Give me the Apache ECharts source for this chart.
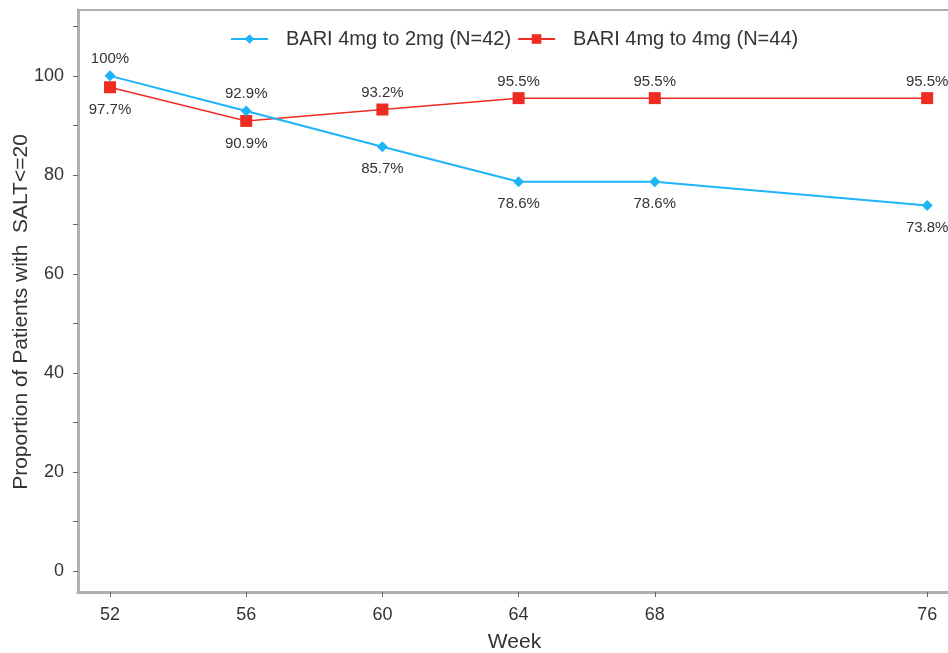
<!DOCTYPE html>
<html>
<head>
<meta charset="utf-8">
<script src="https://cdn.jsdelivr.net/npm/echarts@6/dist/echarts.min.js"></script>
<style>html,body{margin:0;padding:0;background:#fff}#c{width:948px;height:653px}</style>
</head>
<body>
<div id="c"></div>
<script>
var weeks = [52, 56, 60, 64, 68, 76];
var xTicks = [52, 56, 60, 64, 68, 76];
var yTickLabels = [0, 20, 40, 60, 80, 100];
var yTicks = [0, 10, 20, 30, 40, 50, 60, 70, 80, 90, 100, 110];
var seriesNames = ['BARI 4mg to 2mg (N=42)', 'BARI 4mg to 4mg (N=44)'];
var bari2 = [100, 92.9, 85.7, 78.6, 78.6, 73.8];
var bari4 = [97.7, 90.9, 93.2, 95.5, 95.5, 95.5];
var bari2Labels = ['100%', '92.9%', '85.7%', '78.6%', '78.6%', '73.8%'];
var bari4Labels = ['97.7%', '90.9%', '93.2%', '95.5%', '95.5%', '95.5%'];
var bari2LabelSide = ['top', 'top', 'bottom', 'bottom', 'bottom', 'bottom'];
var bari4LabelSide = ['bottom', 'bottom', 'top', 'top', 'top', 'top'];

function build(vals, labels, sides, topDist, botDist) {
  return vals.map(function (v, i) {
    return { value: [weeks[i], v], label: { position: sides[i], formatter: labels[i],
      distance: sides[i] === 'top' ? topDist : botDist } };
  });
}

var chart = echarts.init(document.getElementById('c'));
chart.setOption({
  animation: false,
  textStyle: { fontFamily: 'Liberation Sans, Arial, sans-serif' },
  legend: {
    top: 24, left: 225, itemWidth: 37, itemHeight: 12, itemGap: 6,
    textStyle: { fontSize: 20, color: '#333', padding: [0, 0, 0, 13] },
    data: seriesNames
  },
  grid: { left: 78, right: -3, top: 10, bottom: 61, outerBoundsMode: 'none', containLabel: false,
          show: true, borderColor: '#b0b0b0', borderWidth: 2 },
  xAxis: {
    type: 'value', min: 51.06, max: 76.7,
    name: 'Week', nameLocation: 'middle', nameGap: 40, nameMoveOverlap: false,
    nameTextStyle: { fontSize: 21, color: '#333' },
    axisLine: { show: true, onZero: false, lineStyle: { color: '#b0b0b0', width: 3 } },
    axisTick: { show: true, customValues: xTicks, length: 5, lineStyle: { color: '#666' } },
    axisLabel: { customValues: xTicks, fontSize: 18, color: '#333', margin: 14 },
    splitLine: { show: false }
  },
  yAxis: {
    type: 'value', min: -4.24, max: 113.3,
    name: 'Proportion of Patients with  SALT<=20', nameLocation: 'middle', nameGap: 46, nameMoveOverlap: false,
    nameTextStyle: { fontSize: 21, color: '#333', padding: [0, 22, 0, 0] },
    axisLine: { show: true, onZero: false, lineStyle: { color: '#b0b0b0', width: 3 } },
    axisTick: { show: true, customValues: yTicks, length: 5, lineStyle: { color: '#666' } },
    axisLabel: { customValues: yTickLabels, fontSize: 18, color: '#333', margin: 14 },
    splitLine: { show: false }
  },
  series: [
    {
      name: seriesNames[0], type: 'line', data: build(bari2, bari2Labels, bari2LabelSide, 4, 9),
      symbol: 'diamond', symbolSize: 11,
      itemStyle: { color: '#1eb4f7' }, lineStyle: { color: '#1eb4f7', width: 2 },
      label: { show: true, fontSize: 15, color: '#333' }, z: 3
    },
    {
      name: seriesNames[1], type: 'line', data: build(bari4, bari4Labels, bari4LabelSide, 3, 9),
      symbol: 'rect', symbolSize: 12,
      itemStyle: { color: '#ee2c24' }, lineStyle: { color: '#ee2c24', width: 1.5 },
      label: { show: true, fontSize: 15, color: '#333' }, z: 2
    }
  ]
});
</script>
</body>
</html>
